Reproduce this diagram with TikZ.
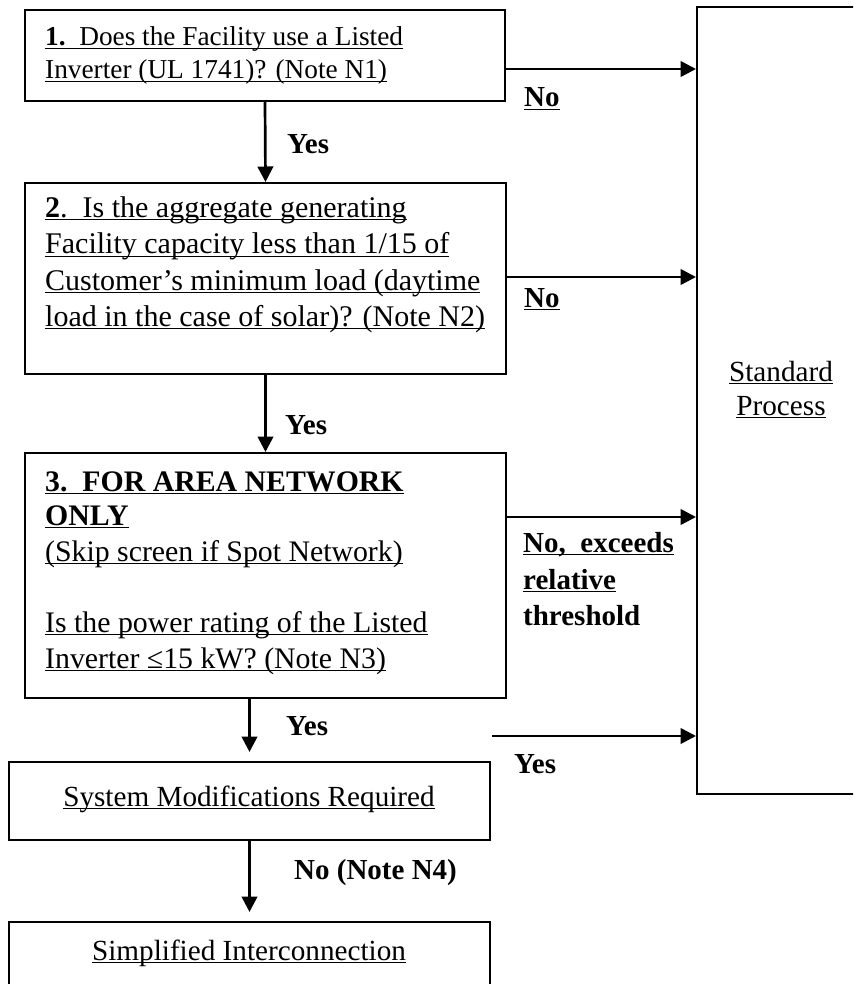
\documentclass[tikz,border=0pt]{standalone}
\usepackage{fontspec}
\setmainfont{Liberation Serif}
\usetikzlibrary{arrows.meta}
\newcommand\myul[1]{\leavevmode\setbox0\hbox{#1}\rlap{\rule[-2.9pt]{\wd0}{1.3pt}}\box0}
\tikzset{
  box/.style={draw, line width=2pt, inner sep=0pt, anchor=north west},
  arr/.style={line width=2.7pt, -{Triangle[length=15.5pt,width=15.5pt]}},
  txt/.style={anchor=base west, inner sep=0pt, font=\fontsize{29}{35}\selectfont},
  txta/.style={txt, font=\fontsize{27.3}{33}\selectfont},
  txtb/.style={txt, font=\fontsize{30}{36}\selectfont},
  txtc/.style={txt, font=\fontsize{29.8}{36}\selectfont},
  ctxt/.style={anchor=base, inner sep=0pt, font=\fontsize{29.2}{35}\selectfont},
  lbl/.style={anchor=base west, inner sep=0pt, font=\fontsize{29}{35}\selectfont\bfseries},
}
\begin{document}
\begin{tikzpicture}[x=1pt,y=-1pt]
\useasboundingbox (0,0) rectangle (853,984);
\clip (0,0) rectangle (853,984);
\fill[white] (0,0) rectangle (853,984);
% boxes
\node[box, minimum width=480pt, minimum height=91pt]  (b1)  at (24,9) {};
\node[box, minimum width=481pt, minimum height=191pt] (b2)  at (24,182) {};
\node[box, minimum width=481pt, minimum height=245pt] (b3)  at (24,452) {};
\node[box, minimum width=481pt, minimum height=78pt]  (sm)  at (8,761) {};
\node[box, minimum width=481pt, minimum height=78pt]  (si)  at (8,921) {};
\node[box, minimum width=170pt, minimum height=787pt] (std) at (696,6) {};
% box texts
\node[txta] (t1a) at (45,46) {\myul{\textbf{1.}\ \ Does the Facility use a Listed}};
\node[txta] (t1b) at (45,79) {\myul{Inverter (UL 1741)? (Note N1)}};
\node[txtb] (t2a) at (45,217.5) {\myul{\textbf{2}.\ \ Is the aggregate generating}};
\node[txtb] (t2b) at (45,254) {\myul{Facility capacity less than 1/15 of}};
\node[txtb] (t2c) at (45,290) {\myul{Customer’s minimum load (daytime}};
\node[txtb] (t2d) at (45,326) {\myul{load in the case of solar)? (Note N2)}};
\node[txtc] (t3a) at (45,491.5) {\myul{\textbf{3.\ \ FOR AREA NETWORK}}};
\node[txtc] (t3b) at (45,525.5) {\myul{\textbf{ONLY}}};
\node[txtc] (t3c) at (45,561.5) {\myul{(Skip screen if Spot Network)}};
\node[txtc] (t3d) at (45,632.5) {\myul{Is the power rating of the Listed}};
\node[txtc] (t3e) at (45,668.5) {\myul{Inverter ≤15 kW? (Note N3)}};
\node[ctxt] (tsa) at (781,381) {\myul{Standard}};
\node[ctxt] (tsb) at (781,415) {\myul{Process}};
\node[ctxt] (tsm) at (249,806) {\myul{System Modifications Required}};
\node[ctxt] (tsi) at (249,960) {\myul{Simplified Interconnection}};
% connectors
\draw[arr] (b1.south) -- (b2.north);
\draw[arr] (b2.south) -- (b3.north);
\draw[arr, shorten >=9pt] (sm.north |- b3.south) -- (sm.north);
\draw[arr, shorten >=9pt] (sm.south) -- (si.north);
\draw[arr] (b1.east |- 600,69) -- (std.west |- 600,69);
\draw[arr] (b2.east |- 600,277) -- (std.west |- 600,277);
\draw[arr] (b3.east |- 600,517) -- (std.west |- 600,517);
\coordinate (ys) at (492,736);
\draw[arr] (ys) -- (ys -| std.west);
% labels
\node[lbl] (l1) at (287,154) {Yes};
\node[lbl] (l2) at (285,434) {Yes};
\node[lbl] (l3) at (286,735) {Yes};
\node[lbl] (l4) at (514,773) {Yes};
\node[lbl] (n1) at (524,107) {\myul{No}};
\node[lbl] (n2) at (524,307) {\myul{No}};
\node[lbl] (n3a) at (523,552) {\myul{No,\ \ exceeds}};
\node[lbl] (n3b) at (523,589) {\myul{relative}};
\node[lbl] (n3c) at (523,625) {threshold};
\node[lbl] (n4) at (294,879) {No (Note N4)};
\end{tikzpicture}
\end{document}
